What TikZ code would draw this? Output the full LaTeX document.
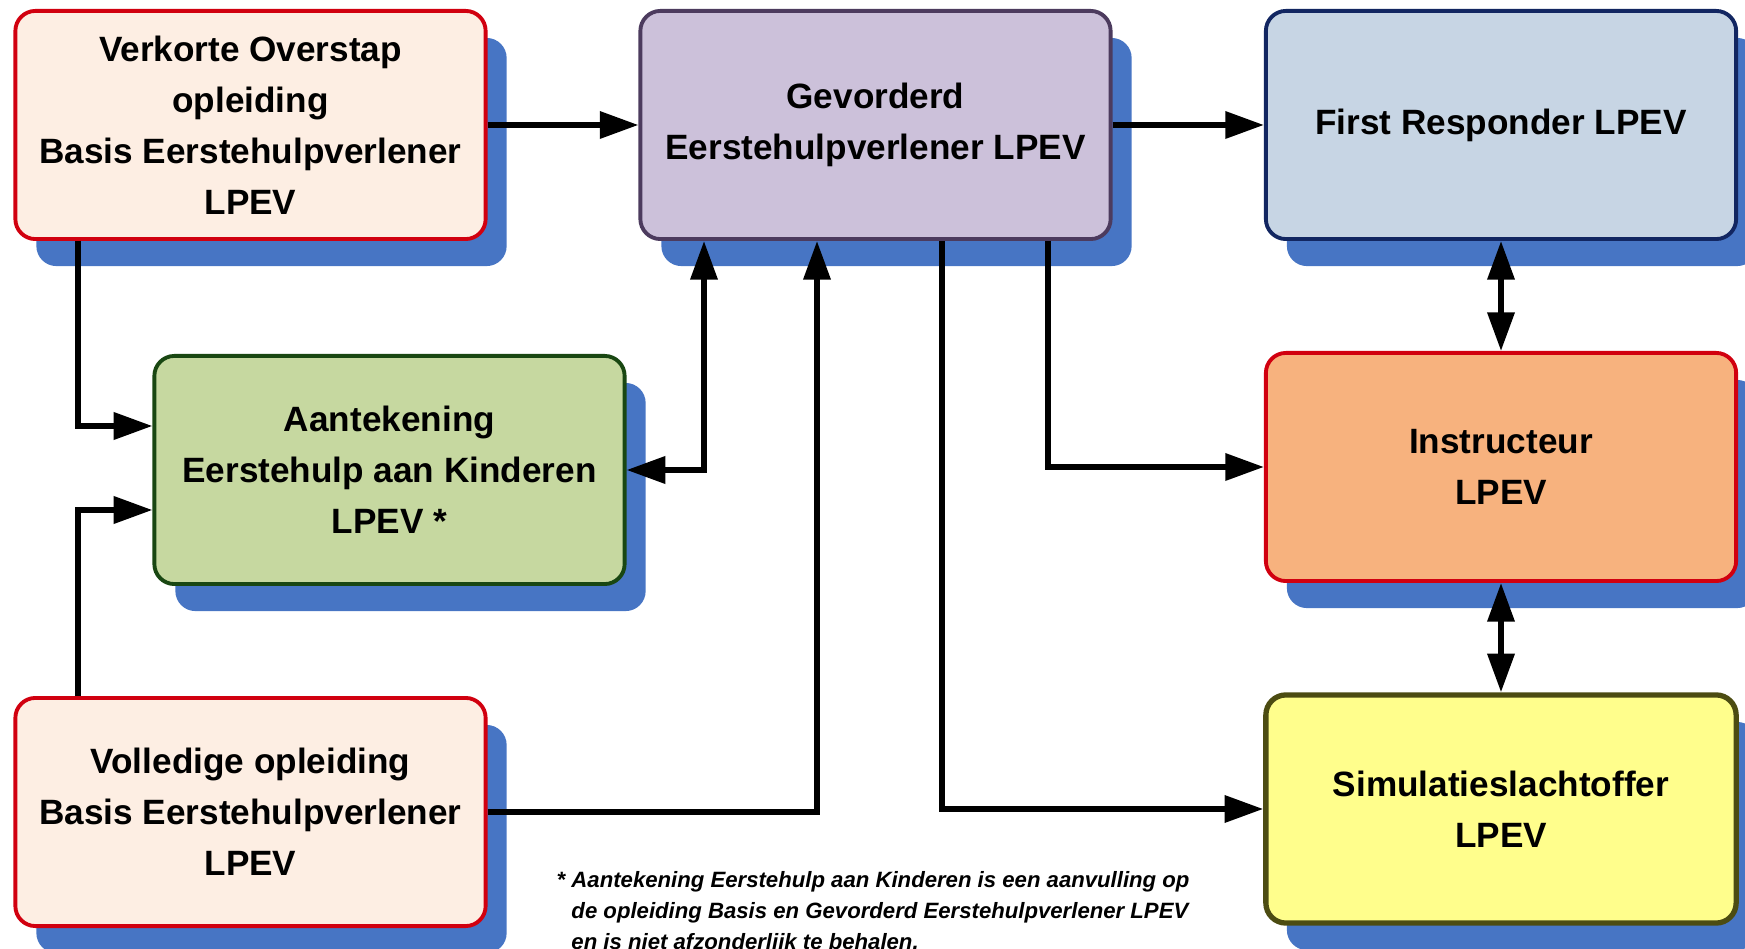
\documentclass[tikz,border=0pt]{standalone}
\usepackage{amsfonts,amsmath,amssymb}
\usepackage{xcolor}
\usepackage{tikz}
\usepackage{fontspec}
\setmainfont{Liberation Sans}
\usetikzlibrary{arrows.meta,shadows}

\begin{document}
\begin{tikzpicture}[x  = {(0.01cm,0cm)},
                    y  = {(0cm,-0.01cm)},
                    scale = 1,
                    color = {black}]

  \useasboundingbox (0, 0) rectangle (1745, 949);


  % DEF POINTS
  \coordinate (c_verkort) at (250.5, 125);
  \coordinate (c_gevord) at (875.5, 125);
  \coordinate (c_first) at (1501, 125);
  \coordinate (c_kind) at (389.5, 470);
  \coordinate (c_instr) at (1501, 467);
  \coordinate (c_volled) at (250.5, 812);
  \coordinate (c_simul) at (1501, 809);

  \coordinate (p_ak) at (78, 426);
  \coordinate (p_vk) at (78, 510);
  \coordinate (p_kg) at (704, 470);
  \coordinate (p_vg) at (817, 812);
  \coordinate (p_gs) at (942, 809);
  \coordinate (p_gi) at (1048, 467);


  % BOXES STYLE
  \definecolor{shadowcolor}{rgb}{ 0.28,0.46,0.77 }
  \definecolor{fill_peach}{rgb}{ 0.992,0.933,0.89 }
  \definecolor{fill_lila}{rgb}{ 0.8,0.757,0.855 }
  \definecolor{fill_blue}{rgb}{ 0.78,0.835,0.894 }
  \definecolor{fill_green}{rgb}{ 0.776,0.847,0.627 }
  \definecolor{fill_orange}{rgb}{ 0.969,0.698,0.494 }
  \definecolor{fill_yellow}{rgb}{ 1,0.996,0.55 }
  \definecolor{edge_red}{rgb}{ 0.82,0,0.06 }
  \definecolor{edge_lila}{rgb}{ 0.3,0.23,0.37 }
  \definecolor{edge_blue}{rgb}{ 0.07,0.15,0.38 }
  \definecolor{edge_green}{rgb}{ 0.1,0.28,0.07 }
  \definecolor{edge_olive}{rgb}{ 0.3,0.3,0.07 }

  \tikzstyle{boxstyle} = [rectangle, rounded corners=0.2cm, inner sep=0pt, minimum width=4.7cm, minimum height=2.28cm, line width=1.1pt, align=center, font=\bfseries\fontsize{10}{14.5}\selectfont, drop shadow={shadow xshift=0.21cm, shadow yshift=-0.27cm, fill=shadowcolor, opacity=1}]
  \tikzstyle{notestyle} = [inner sep=0pt, align=left, font=\bfseries\itshape\fontsize{6.3}{8.8}\selectfont]


  % EDGES STYLE
  \tikzstyle{linkstyle} = [line width=1.6pt, -{Triangle[length=11pt, width=7.5pt]}]
  \tikzstyle{linkstyle_both} = [line width=1.6pt, {Triangle[length=11pt, width=7.5pt]}-{Triangle[length=11pt, width=7.5pt]}]


  % BOXES
  \node[boxstyle, fill=fill_peach, draw=edge_red] (verkort) at (c_verkort) {Verkorte Overstap\\opleiding\\Basis Eerstehulpverlener\\LPEV};
  \node[boxstyle, fill=fill_lila, draw=edge_lila] (gevord) at (c_gevord) {Gevorderd\\Eerstehulpverlener LPEV};
  \node[boxstyle, fill=fill_blue, draw=edge_blue] (first) at (c_first) {First Responder LPEV};
  \node[boxstyle, fill=fill_green, draw=edge_green] (kind) at (c_kind) {Aantekening\\Eerstehulp aan Kinderen\\LPEV *};
  \node[boxstyle, fill=fill_orange, draw=edge_red] (instr) at (c_instr) {Instructeur\\LPEV};
  \node[boxstyle, fill=fill_peach, draw=edge_red] (volled) at (c_volled) {Volledige opleiding\\Basis Eerstehulpverlener\\LPEV};
  \node[boxstyle, fill=fill_yellow, draw=edge_olive, line width=1.5pt] (simul) at (c_simul) {Simulatieslachtoffer\\LPEV};


  % NOTE
  \node[notestyle, anchor=north west] (note) at (556, 871) {* Aantekening Eerstehulp aan Kinderen is een aanvulling op\\\phantom{* }de opleiding Basis en Gevorderd Eerstehulpverlener LPEV\\\phantom{* }en is niet afzonderlijk te behalen.};


  % ARROWS
  \draw[linkstyle] (verkort) -- (gevord);
  \draw[linkstyle] (gevord) -- (first);
  \draw[linkstyle] (verkort.south -| p_ak) -- (p_ak) -- (p_ak -| kind.west);
  \draw[linkstyle] (volled.north -| p_vk) -- (p_vk) -- (p_vk -| kind.west);
  \draw[linkstyle_both] (kind.east) -| (gevord.south -| p_kg);
  \draw[linkstyle] (volled.east) -| (gevord.south -| p_vg);
  \draw[linkstyle] (gevord.south -| p_gs) |- (simul.west);
  \draw[linkstyle] (gevord.south -| p_gi) |- (instr.west);
  \draw[linkstyle_both] (first) -- (instr);
  \draw[linkstyle_both] (instr) -- (simul);

\end{tikzpicture}
\end{document}
